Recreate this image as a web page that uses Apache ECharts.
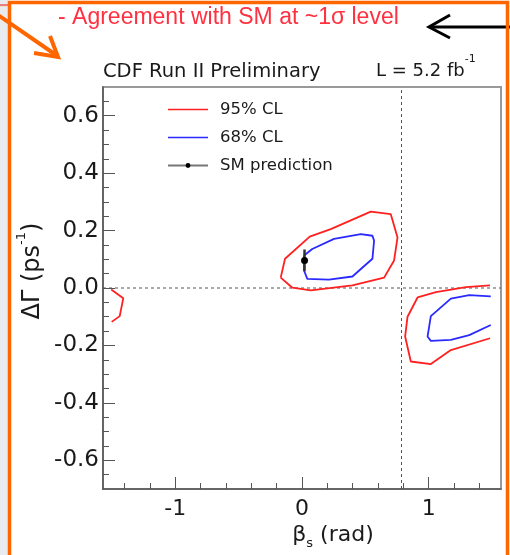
<!DOCTYPE html>
<html>
<head>
<meta charset="utf-8">
<script src="https://cdn.jsdelivr.net/npm/echarts@6/dist/echarts.min.js"></script>
<style>
  html, body { margin: 0; padding: 0; background: #fff; }
  #chart { width: 510px; height: 555px; }
</style>
</head>
<body>
<div id="chart"></div>
<script>
// axis ranges and ticks
const HALF_PI = Math.PI / 2;
const xMajor = [-1, 0, 1];
const xMinor = [-1.4, -1.2, -0.8, -0.6, -0.4, -0.2, 0.2, 0.4, 0.6, 0.8, 1.2, 1.4];
const yMajor = [-0.6, -0.4, -0.2, 0, 0.2, 0.4, 0.6];
const yMinor = [-0.65, -0.55, -0.5, -0.45, -0.35, -0.3, -0.25, -0.15, -0.1, -0.05,
    0.05, 0.1, 0.15, 0.25, 0.3, 0.35, 0.45, 0.5, 0.55, 0.65];

// 95% CL contours
const red95Main = [
    [-0.168, 0.036], [-0.134, 0.102], [0.061, 0.179], [0.227, 0.205], [0.543, 0.266],
    [0.701, 0.257], [0.754, 0.176], [0.727, 0.096], [0.648, 0.036], [0.398, 0.009],
    [0.069, -0.008], [-0.076, 0.001], [-0.168, 0.036]
];
const red95Right = [
    [1.484, 0.009], [1.294, 0.003], [1.057, -0.014], [0.912, -0.033], [0.833, -0.100],
    [0.814, -0.169], [0.859, -0.256], [1.017, -0.265], [1.175, -0.216], [1.484, -0.175]
];
const red95Left = [
    [-1.506, -0.005], [-1.411, -0.036], [-1.439, -0.098], [-1.502, -0.118]
];
// 68% CL contours
const blue68Main = [
    [0.016, 0.113], [0.081, 0.136], [0.253, 0.171], [0.464, 0.188], [0.556, 0.182],
    [0.569, 0.165], [0.556, 0.102], [0.398, 0.040], [0.213, 0.029], [0.042, 0.032],
    [0.016, 0.061], [0.016, 0.113]
];
const blue68Right = [
    [1.490, -0.029], [1.320, -0.025], [1.175, -0.037], [1.017, -0.098], [0.991, -0.169],
    [1.017, -0.184], [1.175, -0.181], [1.320, -0.164], [1.490, -0.129]
];
// SM prediction
const smPoint = [[0.02, 0.096]];
const smError = [[0.02, 0.058], [0.02, 0.134]];
// reference lines
const zeroLine = [[-HALF_PI, 0], [HALF_PI, 0]];
const quarterPiLine = [[Math.PI / 4, -0.7], [Math.PI / 4, 0.7]];

const SLIDE_FONT = 'Liberation Sans, Arial, sans-serif';
const PLOT_FONT = 'DejaVu Sans, sans-serif';
const INK = '#1a1a1a';

const chart = echarts.init(document.getElementById('chart'));

function contour(name, data, color) {
    return {
        name: name,
        type: 'line',
        data: data,
        symbol: 'none',
        showSymbol: false,
        silent: true,
        color: color,
        lineStyle: { color: color, width: 1.8 },
        z: 3
    };
}

// minor tick axes share the range but draw no line or labels
function minorAxis(min, max, pos, values) {
    return {
        type: 'value', min: min, max: max, position: pos,
        splitLine: { show: false },
        axisLine: { show: false, onZero: false },
        axisTick: { inside: true, length: 6, customValues: values, lineStyle: { color: '#555', width: 1 } },
        axisLabel: { show: false }
    };
}

const option = {
    animation: false,
    backgroundColor: '#fff',
    grid: {
        left: 103, top: 87, right: 9, bottom: 66,
        show: true,
        borderColor: '#999',
        borderWidth: 2
    },
    legend: {
        orient: 'vertical',
        left: 162,
        top: 96,
        itemWidth: 40,
        itemHeight: 6,
        itemGap: 11,
        selectedMode: false,
        textStyle: { fontFamily: PLOT_FONT, fontSize: 16.5, color: INK, padding: [0, 0, 0, 7] },
        data: [
            { name: '95% CL', itemStyle: { opacity: 0 }, lineStyle: { width: 1.3 } },
            { name: '68% CL', itemStyle: { opacity: 0 }, lineStyle: { width: 1.3 } },
            { name: 'SM prediction' }
        ]
    },
    xAxis: [{
        type: 'value',
        min: -HALF_PI,
        max: HALF_PI,
        position: 'bottom',
        splitLine: { show: false },
        axisLine: { onZero: false, lineStyle: { color: '#555', width: 1.5 } },
        axisTick: { inside: true, length: 12, customValues: xMajor, lineStyle: { color: '#555', width: 1 } },
        axisLabel: {
            customValues: xMajor, margin: 9,
            fontFamily: PLOT_FONT, fontSize: 22, color: INK,
            formatter: v => String(Math.round(v))
        }
    }, minorAxis(-HALF_PI, HALF_PI, 'bottom', xMinor)],
    yAxis: [{
        type: 'value',
        min: -0.7,
        max: 0.7,
        position: 'left',
        splitLine: { show: false },
        axisLine: { onZero: false, lineStyle: { color: '#555', width: 1.5 } },
        axisTick: { inside: true, length: 12, customValues: yMajor, lineStyle: { color: '#555', width: 1 } },
        axisLabel: {
            customValues: yMajor, margin: 4,
            fontFamily: PLOT_FONT, fontSize: 23, color: INK,
            formatter: v => v.toFixed(1)
        }
    }, minorAxis(-0.7, 0.7, 'left', yMinor)],
    series: [
        {
            type: 'line', data: zeroLine, symbol: 'none', silent: true, z: 2,
            lineStyle: { color: '#555', width: 1, type: [3, 3] }
        },
        {
            type: 'line', data: quarterPiLine, symbol: 'none', silent: true, z: 2,
            lineStyle: { color: '#555', width: 1, type: [3, 3] }
        },
        contour('95% CL', red95Main, '#ff2020'),
        contour('95% CL', red95Right, '#ff2020'),
        contour('95% CL', red95Left, '#ff2020'),
        contour('68% CL', blue68Main, '#2a2aff'),
        contour('68% CL', blue68Right, '#2a2aff'),
        {
            type: 'line', data: smError, symbol: 'none', silent: true, z: 4,
            lineStyle: { color: '#333', width: 2.5 }
        },
        {
            name: 'SM prediction',
            type: 'line',
            data: smPoint,
            symbol: 'circle',
            symbolSize: 7,
            showSymbol: true,
            silent: true,
            itemStyle: { color: '#000' },
            lineStyle: { color: '#777', width: 3 },
            z: 5
        }
    ],
    graphic: [
        // grey page margin on the left
        { type: 'rect', shape: { x: 0, y: 0, width: 8, height: 555 }, style: { fill: '#e8ecef' }, z: 0 },
        { type: 'rect', shape: { x: 0, y: 4, width: 8, height: 3 }, style: { fill: '#f3dcc8' }, z: 0 },
        { type: 'line', shape: { x1: 0, y1: 5, x2: 8, y2: 5 }, style: { stroke: '#d23', lineWidth: 1 }, z: 0 },
        // orange frame (open at the bottom)
        {
            type: 'polyline',
            shape: { points: [[9.5, 560], [9.5, 2.5], [507.5, 2.5], [507.5, 560]] },
            style: { stroke: '#ff6600', lineWidth: 3.5, fill: null },
            z: 1
        },
        // orange arrow
        {
            type: 'polyline',
            shape: { points: [[-2, 15], [56, 55]] },
            style: { stroke: '#ff6600', lineWidth: 4, fill: null }
        },
        {
            type: 'polyline',
            shape: { points: [[34, 53], [58, 57], [50, 36]] },
            style: { stroke: '#ff6600', lineWidth: 4, fill: null }
        },
        // black arrow
        {
            type: 'polyline',
            shape: { points: [[512, 27], [430, 27]] },
            style: { stroke: '#000', lineWidth: 3, fill: null }
        },
        {
            type: 'polyline',
            shape: { points: [[450, 15], [429, 27], [450, 38]] },
            style: { stroke: '#000', lineWidth: 3, fill: null }
        },
        // annotation
        {
            type: 'text', x: 58, y: 18,
            style: {
                text: '- Agreement with SM at ~1σ level',
                fill: '#ff3040', font: '23px ' + SLIDE_FONT, verticalAlign: 'middle'
            }
        },
        {
            type: 'text', x: 103, y: 72,
            style: {
                text: 'CDF Run II Preliminary',
                fill: INK, font: '19.5px ' + PLOT_FONT, verticalAlign: 'middle'
            }
        },
        {
            type: 'text', x: 376, y: 67,
            style: {
                text: '{m|L = 5.2 fb}{s|-1}',
                verticalAlign: 'middle',
                rich: {
                    m: { fontFamily: PLOT_FONT, fontSize: 18, lineHeight: 26, verticalAlign: 'bottom', fill: INK },
                    s: { fontFamily: PLOT_FONT, fontSize: 11, lineHeight: 12, verticalAlign: 'top', fill: INK }
                }
            }
        },
        // axis titles
        {
            type: 'text', x: 333, y: 537,
            style: {
                text: '{m|β}{s|s}{m| (rad)}',
                align: 'center', verticalAlign: 'middle',
                rich: {
                    m: { fontFamily: PLOT_FONT, fontSize: 22, lineHeight: 26, verticalAlign: 'top', fill: INK },
                    s: { fontFamily: PLOT_FONT, fontSize: 13, lineHeight: 14, verticalAlign: 'bottom', fill: INK }
                }
            }
        },
        {
            type: 'text', x: 30, y: 271, rotation: Math.PI / 2,
            style: {
                text: '{m|ΔΓ (ps}{s|-1}{m|)}',
                align: 'center', verticalAlign: 'middle',
                rich: {
                    m: { fontFamily: PLOT_FONT, fontSize: 24, lineHeight: 30, verticalAlign: 'bottom', fill: INK },
                    s: { fontFamily: PLOT_FONT, fontSize: 13, lineHeight: 14, verticalAlign: 'top', fill: INK }
                }
            }
        }
    ]
};

chart.setOption(option);
</script>
</body>
</html>
